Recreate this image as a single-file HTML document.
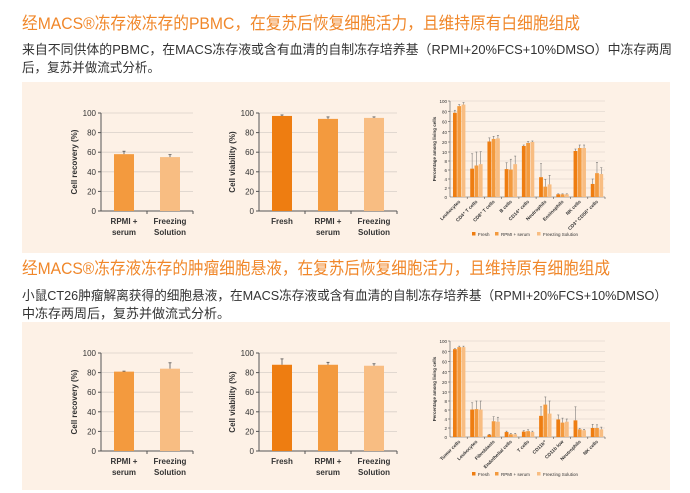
<!DOCTYPE html>
<html><head><meta charset="utf-8"><style>
html,body{margin:0;padding:0;background:#fff;}
svg{display:block;font-family:"Liberation Sans","Noto Sans CJK SC",sans-serif;}
</style></head><body>
<svg id="s" width="690" height="493" viewBox="0 0 690 493" xmlns="http://www.w3.org/2000/svg">
<rect x="22" y="82" width="648" height="171" fill="#fdf1e6"/>
<rect x="22" y="322" width="648" height="168" fill="#fdf1e6"/>
<text x="22" y="29" font-size="17" fill="#f0872a" textLength="558" lengthAdjust="spacingAndGlyphs">经MACS®冻存液冻存的PBMC，在复苏后恢复细胞活力，且维持原有白细胞组成</text>
<text x="22" y="54" font-size="13" fill="#333" textLength="650" lengthAdjust="spacingAndGlyphs">来自不同供体的PBMC，在MACS冻存液或含有血清的自制冻存培养基（RPMI+20%FCS+10%DMSO）中冻存两周</text>
<text x="22" y="72" font-size="13" fill="#333" textLength="138" lengthAdjust="spacingAndGlyphs">后，复苏并做流式分析。</text>
<text x="22" y="274" font-size="17" fill="#f0872a" textLength="588" lengthAdjust="spacingAndGlyphs">经MACS®冻存液冻存的肿瘤细胞悬液，在复苏后恢复细胞活力，且维持原有细胞组成</text>
<text x="22" y="300" font-size="13" fill="#333" textLength="645" lengthAdjust="spacingAndGlyphs">小鼠CT26肿瘤解离获得的细胞悬液，在MACS冻存液或含有血清的自制冻存培养基（RPMI+20%FCS+10%DMSO）</text>
<text x="22" y="318" font-size="13" fill="#333" textLength="208" lengthAdjust="spacingAndGlyphs">中冻存两周后，复苏并做流式分析。</text>
<g id="g"></g>
</svg>
<script>
var C=["#ee7d11","#f39a3e","#f8bd82"];
var out="";
function t(x,y,s,str,anchor,extra){out+='<text x="'+x+'" y="'+y+'" font-size="'+s+'" fill="#333" text-anchor="'+(anchor||"start")+'" '+(extra||"")+'>'+str+'</text>';}
function l(x1,y1,x2,y2,c,w){out+='<line x1="'+x1+'" y1="'+y1+'" x2="'+x2+'" y2="'+y2+'" stroke="'+c+'" stroke-width="'+(w||1)+'"/>';}
function r(x,y,w,h,c){out+='<rect x="'+x+'" y="'+y+'" width="'+w+'" height="'+h+'" fill="'+c+'"/>';}
function small(ax,axEnd,y100,y0,title,bars){
  var k=(y0-y100)/100;
  for(var v=0;v<=100;v+=20){var y=y0-v*k; if(v>0)l(ax,y,axEnd,y,"#d8d0c8",0.8); l(ax-3,y,ax,y,"#555"); t(ax-5,y+3,8,v,"end");}
  l(ax,y100,ax,y0,"#555");l(ax,y0,axEnd,y0,"#555");
  var n=bars.length, w=(axEnd-ax)/n;
  for(var i=0;i<n;i++){var b=bars[i];var cx=ax+w*(i+0.5);var top=y0-b.v*k;
    r(cx-10,top,20,y0-top,b.c);
    var et=y0-(b.v+b.e)*k; l(cx,top,cx,et,"#555",0.8); l(cx-1.5,et,cx+1.5,et,"#555",0.8);
    l(ax+w*(i+1),y0,ax+w*(i+1),y0+3,"#555");
    var ls=b.lab.split("|"); for(var j=0;j<ls.length;j++) t(cx,y0+13+j*11,8,ls[j],"middle",'font-weight="bold"');
  }
  var my=(y100+y0)/2; t(ax-24,my,8,title,"middle",'font-weight="bold" transform="rotate(-90 '+(ax-24)+' '+my+')"');
}
function big(ax,axEnd,y100,y20,y10,y0,cats,vals,errs,legY){
  function m(v){ if(v<=10) return y0-v*(y0-y10)/10; if(v<=20) return y10-(v-10)*(y10-y20)/10; return y20-(v-20)*(y20-y100)/80;}
  [20,40,60,80,100].forEach(function(v){var y=m(v);l(ax,y,axEnd,y,"#d8d0c8",0.6);l(ax-2,y,ax,y,"#555",0.6);t(ax-3,y+2,4.5,v,"end");});
  [2,4,6,8,10].forEach(function(v){var y=m(v);l(ax,y,axEnd,y,"#d8d0c8",0.6);l(ax-2,y,ax,y,"#555",0.6);t(ax-3,y+2,4.5,v,"end");});
  t(ax-3,y0+2,4.5,0,"end");
  l(ax,y100,ax,y0,"#555",0.6);l(ax,y0,axEnd,y0,"#555",0.6);
  var w=(axEnd-ax)/cats.length;
  for(var i=0;i<cats.length;i++){var gx=ax+w*i+3;
    for(var j=0;j<3;j++){var v=vals[i][j];var x=gx+j*4.3;var top=m(v);r(x,top,3.8,y0-top,C[j]);
      var et=m(v+errs[i][j]);l(x+1.9,top,x+1.9,et,"#666",0.5);l(x+0.9,et,x+2.9,et,"#666",0.5);}
    l(ax+w*(i+1),y0,ax+w*(i+1),y0+2,"#555",0.6);
    var lx=ax+w*(i+0.5)+2; t(lx,y0+5,4.8,cats[i],"end",'font-weight="bold" transform="rotate(-45 '+lx+' '+(y0+5)+')"');
  }
  var my=(y100+y0)/2; t(ax-14,my,4.5,"Percentage among living cells","middle",'font-weight="bold" transform="rotate(-90 '+(ax-14)+' '+my+')"');
  var L=[["Fresh",472],["RPMI + serum",495],["Freezing Solution",537]];
  L.forEach(function(a,j){r(a[1],legY-4,3.5,3.5,C[j]);t(a[1]+6,legY,4.5,a[0]);});
}
small(101,193,113,211,"Cell recovery (%)",[{v:58,e:3,c:C[1],lab:"RPMI +|serum"},{v:55,e:2.5,c:C[2],lab:"Freezing|Solution"}]);
small(259,397,113,211,"Cell viability (%)",[{v:97,e:1,c:C[0],lab:"Fresh"},{v:94,e:2,c:C[1],lab:"RPMI +|serum"},{v:95,e:1,c:C[2],lab:"Freezing|Solution"}]);
small(101,193,353,451,"Cell recovery (%)",[{v:81,e:0.5,c:C[1],lab:"RPMI +|serum"},{v:84,e:6,c:C[2],lab:"Freezing|Solution"}]);
small(259,397,353,451,"Cell viability (%)",[{v:88,e:6,c:C[0],lab:"Fresh"},{v:88,e:2.5,c:C[1],lab:"RPMI +|serum"},{v:87,e:2,c:C[2],lab:"Freezing|Solution"}]);
big(450,605,101,142,152,197,
 ["Leukocytes","CD4⁺ T cells","CD8⁺ T cells","B cells","CD14⁺ cells","Neutrophils","Eosinophils","NK cells","CD3⁺ CD56⁺ cells"],
 [[77,90,93],[6.3,7,7.3],[21,26,27],[6.2,6.1,7.3],[16,19,20],[4.4,2.3,2.8],[0.6,0.6,0.6],[11,14,14],[2.9,5.3,5.1]],
 [[5,3,4],[3.3,3,3],[7,5,6],[1.4,2.3,1.8],[1,2,2],[3,1.6,2],[0.1,0.1,0.1],[2,3,3],[1.1,2.4,1.4]],236);
big(450,605,341,382,392,437,
 ["Tumor cells","Leukocytes","Fibroblasts","Endothelial cells","T cells","CD11b⁺","CD11b low","Neutrophils","NK cells"],
 [[84,88,88],[6.1,6.2,6.1],[0.5,3.5,3.4],[1.1,0.6,0.6],[1.2,1.3,1.1],[4.7,7.2,5.2],[3.9,3.2,3.4],[3.7,1.7,1.5],[2,2,1.7]],
 [[1,2,2],[1.5,1.8,1.9],[0.1,1,1],[0.2,0.2,0.2],[0.2,0.3,0.2],[2,1.7,2.8],[1,1,0.6],[3,0.2,0.2],[0.8,0.7,0.5]],476);
document.getElementById("g").innerHTML=out;
</script>
</body></html>
